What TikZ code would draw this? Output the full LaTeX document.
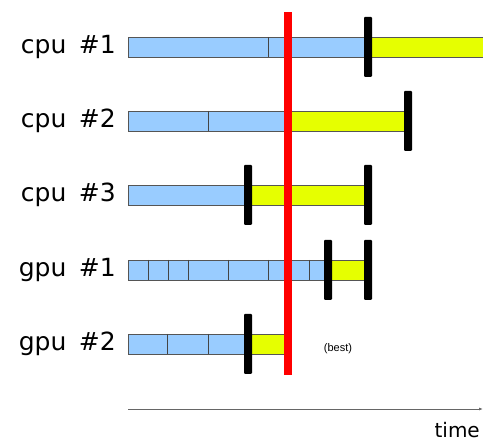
\documentclass[tikz,border=0pt]{standalone}
\usepackage{fontspec}
\setmainfont{DejaVu Sans}
\setsansfont{Liberation Sans}
\usetikzlibrary{arrows.meta}
\definecolor{busyblue}{HTML}{99CCFF}
\definecolor{waityellow}{HTML}{E6FF00}
\definecolor{bargray}{HTML}{555555}
\begin{document}
\begin{tikzpicture}[x=1pt, y=-1pt,
    busy/.style={draw=bargray, line width=0.8pt, fill=busyblue},
    wait/.style={draw=bargray, line width=0.8pt, fill=waityellow},
    split/.style={draw=bargray!80!black, line width=0.8pt},
    finish/.style={fill=black, rounded corners=1pt},
    unit/.style={font=\fontsize{25}{28}\selectfont, anchor=east, inner sep=0pt},
]
\clip (0,0) rectangle (483,443);

% busy and waiting bars
\foreach \yc/\be/\ye in {47/368/490, 121/288/408, 195/248/368, 270/328/368, 344/248/288}{
  \draw[busy] (128,\yc-10) rectangle (\be,\yc+10);
  \draw[wait] (\be,\yc-10) rectangle (\ye,\yc+10);
}

% task boundaries
\foreach \xs in {268}{\draw[split] (\xs,37) -- (\xs,57);}
\foreach \xs in {208}{\draw[split] (\xs,111) -- (\xs,131);}
\foreach \xs in {148,168,188,228,268,309}{\draw[split] (\xs,260) -- (\xs,280);}
\foreach \xs in {167,208}{\draw[split] (\xs,334) -- (\xs,354);}

% best finish time
\fill[red] (284,12) rectangle (292,375);

% end marks
\foreach \xm/\yc in {368/47, 408/121, 248/195, 368/195, 328/270, 368/270, 248/344}{
  \fill[finish] (\xm-4,\yc-30) rectangle (\xm+4,\yc+30);
}

% labels
\node[unit] (cpu1) at (116,47) {cpu\hspace{0.5em}\#1};
\node[unit] (cpu2) at (116,121) {cpu\hspace{0.5em}\#2};
\node[unit] (cpu3) at (116,195) {cpu\hspace{0.5em}\#3};
\node[unit] (gpu1) at (116,270) {gpu\hspace{0.5em}\#1};
\node[unit] (gpu2) at (116,344) {gpu\hspace{0.5em}\#2};
\node[font=\sffamily\fontsize{11}{13}\selectfont] (best) at (338,349) {(best)};

% time axis
\coordinate (t0) at (128,409);
\coordinate (t1) at (483,409);
\draw[black!60, line width=0.8pt, -{Latex[length=4pt, width=3pt]}] (t0) -- (t1);
\node[font=\fontsize{20}{23}\selectfont, anchor=east, inner sep=0pt] (time) at (480,430) {time};
\end{tikzpicture}
\end{document}
